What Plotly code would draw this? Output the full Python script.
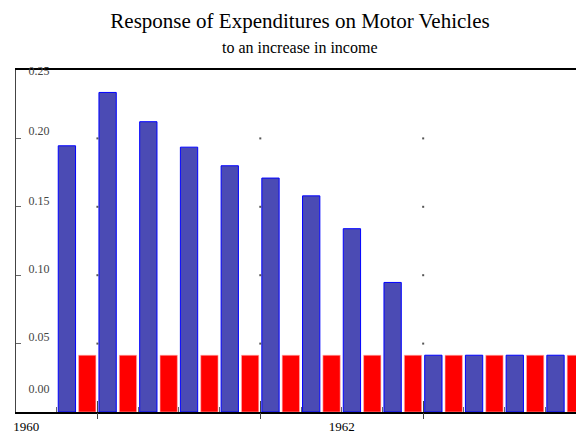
import plotly.graph_objects as go

# quarterly impulse response, one slot per quarter
QUARTERS = list(range(13))
BLUE_VALUES = [0.1946, 0.2336, 0.2122, 0.1936, 0.1800, 0.1710, 0.1580, 0.1340,
               0.0947, 0.0415, 0.0415, 0.0415, 0.0415]
RED_VALUES = [0.0415, 0.0415, 0.0415, 0.0415, 0.0415, 0.0415, 0.0415, 0.0415,
              0.0415, 0.0415, 0.0415, 0.0415, 0.0415]

Y_TICKS = [0.05, 0.10, 0.15, 0.20]
Y_LABELS = ["0.00", "0.05", "0.10", "0.15", "0.20", "0.25"]
Y_LABEL_POS = [0.0173, 0.0549, 0.1044, 0.1543, 0.2052, 0.2493]

X_MAJOR = [0.5, 4.5, 8.5, 12.5]
X_MINOR = [-0.5, 1.5, 2.5, 3.5, 5.5, 6.5, 7.5, 9.5, 10.5, 11.5]
X_LABELS = ["1960", "1962"]
X_LABEL_POS = [-1.25, 6.5]

X_RANGE = [-1.5, 12.45]
Y_RANGE = [0, 0.25]

SERIF = "Liberation Serif"

fig = go.Figure()

fig.add_trace(go.Bar(
    x=QUARTERS, y=BLUE_VALUES,
    marker=dict(color="#4b4bb4", line=dict(color="#0000ff", width=1)),
    showlegend=False, hoverinfo="skip",
))
fig.add_trace(go.Bar(
    x=QUARTERS, y=RED_VALUES,
    marker=dict(color="#ff0000", line=dict(color="#ffb0b0", width=0.6)),
    showlegend=False, hoverinfo="skip",
))

# little grid dots where year ticks meet value ticks
dot_x = [x for x in X_MAJOR for _ in Y_TICKS]
dot_y = [y for _ in X_MAJOR for y in Y_TICKS]
fig.add_trace(go.Scatter(
    x=dot_x, y=dot_y, mode="markers", xaxis="x2", yaxis="y2",
    marker=dict(symbol="square", size=2, color="#555555"),
    cliponaxis=False, showlegend=False, hoverinfo="skip",
))
fig.add_trace(go.Scatter(x=[None], y=[None], xaxis="x3", yaxis="y",
                         showlegend=False, hoverinfo="skip"))

# the page body has an 8px margin, so the figure is 8px smaller each way
fig.update_layout(
    width=576, height=426,
    margin=dict(l=8, r=0, t=62, b=18),
    paper_bgcolor="white", plot_bgcolor="white",
    barmode="group", bargap=0.0, bargroupgap=0.15,
    font=dict(family=SERIF, size=12, color="black"),
    title=dict(
        text="Response of Expenditures on Motor Vehicles",
        x=0.5, xref="paper", xanchor="center",
        y=1 - 13 / 426, yanchor="middle",
        font=dict(family=SERIF, size=21, color="black"),
    ),
    annotations=[dict(
        text="to an increase in income", xref="paper", yref="paper",
        x=0.5, y=1 + 23 / 346, xanchor="center", yanchor="middle",
        showarrow=False, font=dict(family=SERIF, size=16, color="black"),
    )],
    xaxis=dict(
        range=X_RANGE, tickvals=X_LABEL_POS, ticktext=X_LABELS, ticks="",
        showgrid=False, zeroline=False,
        showline=True, linecolor="black", linewidth=1.5, mirror=True,
        tickfont=dict(family=SERIF, size=13), ticklabelstandoff=2,
    ),
    xaxis2=dict(
        range=X_RANGE, overlaying="x", anchor="y", side="bottom",
        tickvals=X_MAJOR, ticks="outside", ticklen=6, tickcolor="#444444",
        showticklabels=False, showgrid=False, zeroline=False, showline=False,
        minor=dict(tickvals=X_MINOR, ticks="inside", ticklen=5, tickcolor="#666666"),
    ),
    xaxis3=dict(
        range=X_RANGE, overlaying="x", anchor="y", side="bottom",
        tickvals=X_MAJOR, ticks="inside", ticklen=11, tickcolor="#444444",
        showticklabels=False, showgrid=False, zeroline=False, showline=False,
    ),
    yaxis=dict(
        range=Y_RANGE, tickvals=Y_LABEL_POS, ticktext=Y_LABELS, ticks="",
        ticklabelposition="inside", ticklabelstandoff=12, ticklabeloverflow="allow",
        showgrid=False, zeroline=False,
        showline=True, linecolor="#444444", linewidth=1,
        tickfont=dict(family=SERIF, size=12),
    ),
    yaxis2=dict(
        range=Y_RANGE, overlaying="y", anchor="x", side="left",
        tickvals=Y_TICKS, ticks="inside", ticklen=5, tickcolor="#666666",
        showticklabels=False, showgrid=False, zeroline=False, showline=False,
    ),
)

fig.write_html("out.html")
